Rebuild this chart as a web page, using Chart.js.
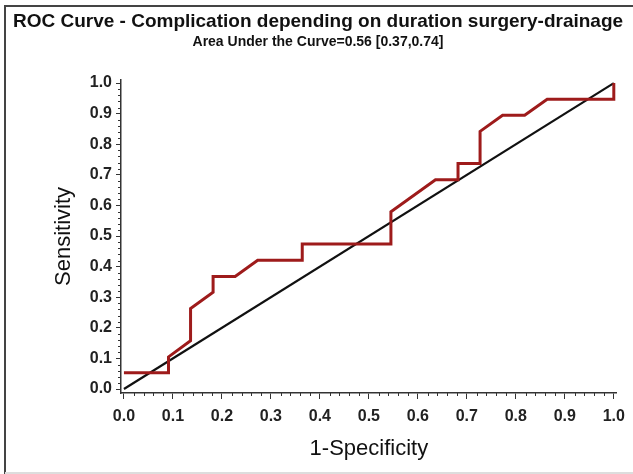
<!DOCTYPE html>
<html>
<head>
<meta charset="utf-8">
<script src="https://cdn.jsdelivr.net/npm/chart.js@4/dist/chart.umd.min.js"></script>
<style>
  html, body { margin: 0; padding: 0; background: #fff; }
  #wrap { width: 633px; height: 474px; position: relative; }
</style>
</head>
<body>
<div id="wrap"><canvas id="rocChart" width="633" height="474"></canvas></div>
<script>
// ROC curve points (1-Specificity, Sensitivity)
const fpr = [0, 0.091, 0.091, 0.136, 0.136, 0.182, 0.182, 0.227, 0.273, 0.364, 0.364, 0.545,
             0.545, 0.636, 0.682, 0.682, 0.727, 0.727, 0.773, 0.818, 0.864, 1.0, 1.0];
const tpr = [0.053, 0.053, 0.105, 0.158, 0.263, 0.316, 0.368, 0.368, 0.421, 0.421, 0.474, 0.474,
             0.579, 0.684, 0.684, 0.737, 0.737, 0.842, 0.895, 0.895, 0.947, 0.947, 1.0];

// chance diagonal
const refX = [0, 1];
const refY = [0, 1];

const tickValues = [0, 0.1, 0.2, 0.3, 0.4, 0.5, 0.6, 0.7, 0.8, 0.9, 1.0];
const tickLabels = ['0.0', '0.1', '0.2', '0.3', '0.4', '0.5', '0.6', '0.7', '0.8', '0.9', '1.0'];

const chartTitle = 'ROC Curve - Complication depending on duration surgery-drainage';
const chartSubtitle = 'Area Under the Curve=0.56 [0.37,0.74]';

const FONT = '"Liberation Sans", Arial, sans-serif';
const AXIS_COLOR = '#333';

const toPoints = (xs, ys) => xs.map((x, i) => ({x: x, y: ys[i]}));

// frame round the figure
const framePlugin = {
  id: 'frame',
  beforeDraw(chart) {
    const c = chart.ctx;
    c.save();
    c.fillStyle = '#fff';
    c.fillRect(0, 0, chart.width, chart.height);
    c.strokeStyle = '#444';
    c.lineWidth = 2;
    c.beginPath();
    c.moveTo(5, 474);
    c.lineTo(5, 6);
    c.lineTo(633, 6);
    c.stroke();
    c.strokeStyle = '#ddd';
    c.beginPath();
    c.moveTo(5, 473);
    c.lineTo(633, 473);
    c.stroke();
    c.restore();
  }
};

// short minor ticks between the labelled ones
const minorTicks = {
  id: 'minorTicks',
  afterDraw(chart) {
    const c = chart.ctx;
    const xs = chart.scales.x, ys = chart.scales.y;
    const area = chart.chartArea;
    c.save();
    c.strokeStyle = AXIS_COLOR;
    c.lineWidth = 1;
    c.beginPath();
    for (let i = 0; i <= 50; i++) {
      if (i % 5 === 0) continue;
      const v = i / 50;
      const px = Math.round(xs.getPixelForValue(v)) + 0.5;
      c.moveTo(px, area.bottom);
      c.lineTo(px, area.bottom + 3);
      const py = Math.round(ys.getPixelForValue(v)) + 0.5;
      c.moveTo(area.left, py);
      c.lineTo(area.left - 3, py);
    }
    c.stroke();
    c.restore();
  }
};

const setTicks = (axis) => { axis.ticks = tickValues.map(v => ({value: v})); };

new Chart(document.getElementById('rocChart'), {
  type: 'scatter',
  data: {
    datasets: [
      {
        data: toPoints(fpr, tpr),
        showLine: true,
        borderColor: '#9e1b1b',
        borderWidth: 3,
        pointRadius: 0,
        tension: 0
      },
      {
        data: toPoints(refX, refY),
        showLine: true,
        borderColor: '#111',
        borderWidth: 2.2,
        pointRadius: 0
      }
    ]
  },
  options: {
    responsive: false,
    animation: false,
    devicePixelRatio: 1,
    layout: { padding: { left: 3, right: 0, top: 0, bottom: 0 } },
    plugins: {
      legend: { display: false },
      tooltip: { enabled: false },
      title: {
        display: true,
        text: chartTitle,
        color: '#111',
        font: { family: FONT, size: 19, weight: 'bold' },
        padding: { top: 10.6, bottom: 0 }
      },
      subtitle: {
        display: true,
        text: chartSubtitle,
        color: '#111',
        font: { family: FONT, size: 14, weight: 'bold' },
        padding: { top: 0, bottom: 29.8 }
      }
    },
    scales: {
      x: {
        type: 'linear',
        min: -0.006,
        max: 1.006,
        afterBuildTicks: setTicks,
        afterFit: (s) => { s.height = 81; },
        ticks: {
          callback: (v, i) => tickLabels[i],
          color: '#222',
          font: { family: FONT, size: 16, weight: 'bold' },
          padding: 8,
          maxRotation: 0
        },
        grid: { drawOnChartArea: false, tickLength: 6, color: AXIS_COLOR },
        border: { display: true, color: AXIS_COLOR, width: 1.5 },
        title: {
          display: true,
          text: '1-Specificity',
          color: '#111',
          font: { family: FONT, size: 22 },
          padding: 12
        }
      },
      y: {
        type: 'linear',
        min: -0.013,
        max: 1.01,
        afterBuildTicks: setTicks,
        afterFit: (s) => { s.width = 118; },
        ticks: {
          callback: (v, i) => tickLabels[i],
          color: '#222',
          font: { family: FONT, size: 16, weight: 'bold' },
          padding: 4
        },
        grid: { drawOnChartArea: false, tickLength: 5, color: AXIS_COLOR },
        border: { display: true, color: AXIS_COLOR, width: 1.5 },
        title: {
          display: true,
          text: 'Sensitivity',
          color: '#111',
          font: { family: FONT, size: 22 },
          padding: 48
        }
      },
      // empty right-hand strip, keeps the plot clear of the right edge
      yRight: {
        type: 'linear',
        position: 'right',
        display: true,
        afterFit: (s) => { s.width = 13; },
        ticks: { display: false },
        grid: { display: false },
        border: { display: false }
      }
    }
  },
  plugins: [framePlugin, minorTicks]
});
</script>
</body>
</html>
